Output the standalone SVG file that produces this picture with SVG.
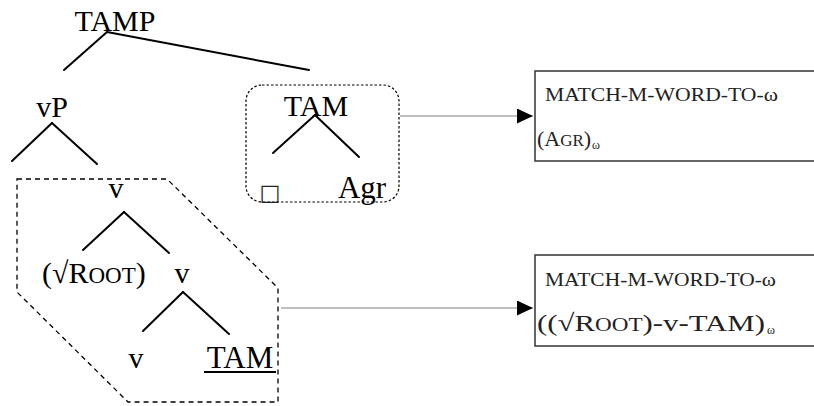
<svg xmlns="http://www.w3.org/2000/svg" width="814" height="406" viewBox="0 0 814 406">
<defs>
<style>
.t{font-family:"Liberation Serif","Times New Roman",serif;font-size:30px;fill:#000}
.b{font-family:"Liberation Serif","Times New Roman",serif;font-size:24px;fill:#222}
.sc{font-size:18px}
.sub{font-size:12px}
.br{stroke:#000;stroke-width:2;fill:none;stroke-linecap:round}
.ar{stroke:#aaa;stroke-width:1.5;fill:none}
.box{fill:#fff;stroke:#333;stroke-width:1.5}
</style>
<marker id="ah" markerWidth="16" markerHeight="16" refX="16" refY="7.5" orient="auto" markerUnits="userSpaceOnUse">
<path d="M0,0 L16,7.5 L0,15 Z" fill="#000"/>
</marker>
</defs>
<rect width="814" height="406" fill="#fff"/>

<g id="region-lower">
<polygon points="17,179 167,179 278,288 278,402 128,402 17,292" fill="none" stroke="#000" stroke-width="1.3" stroke-dasharray="5,4"/>
</g>
<g id="region-tam">
<rect x="246" y="85" width="153" height="117" rx="16" ry="16" fill="none" stroke="#000" stroke-width="1.2" stroke-dasharray="2.5,2"/>
</g>

<g id="connectors">
<line class="br" x1="107" y1="32" x2="64" y2="70"/>
<line class="br" x1="107" y1="32" x2="309" y2="70"/>
<line class="br" x1="52" y1="123" x2="12" y2="161"/>
<line class="br" x1="52" y1="123" x2="97" y2="164"/>
<line class="br" x1="315" y1="115" x2="273" y2="153"/>
<line class="br" x1="315" y1="115" x2="359" y2="157"/>
<line class="br" x1="124" y1="212" x2="83" y2="250"/>
<line class="br" x1="124" y1="212" x2="169" y2="253"/>
<line class="br" x1="183" y1="292" x2="143" y2="331"/>
<line class="br" x1="183" y1="292" x2="229" y2="334"/>
<line class="ar" x1="400" y1="116" x2="533" y2="116" marker-end="url(#ah)"/>
<line class="ar" x1="281" y1="308" x2="533" y2="308" marker-end="url(#ah)"/>
</g>

<g id="node-tamp"><text class="t" x="115" y="31" text-anchor="middle">TAMP</text></g>
<g id="node-vp"><text class="t" x="52" y="117" text-anchor="middle">vP</text></g>
<g id="node-tam"><text class="t" x="316" y="116" text-anchor="middle">TAM</text></g>
<g id="node-square"><text x="270" y="200" text-anchor="middle" style="font-family:'DejaVu Sans',sans-serif;font-size:22px;fill:#222">□</text></g>
<g id="node-agr"><text class="t" x="362" y="198" text-anchor="middle" style="font-size:31px">Agr</text></g>
<g id="node-v1"><text class="t" x="116" y="198" text-anchor="middle">v</text></g>
<g id="node-root"><text class="t" x="42" y="283"><tspan>(√R</tspan><tspan style="font-size:23px">OOT</tspan><tspan>)</tspan></text></g>
<g id="node-v2"><text class="t" x="182" y="283" text-anchor="middle">v</text></g>
<g id="node-v3"><text class="t" x="136" y="368" text-anchor="middle">v</text></g>
<g id="node-tam2"><text class="t" x="240" y="368" text-anchor="middle" style="font-size:31px">TAM</text><line x1="204" y1="372" x2="276" y2="372" stroke="#000" stroke-width="2"/></g>

<g id="box-agr">
<rect class="box" x="535" y="71" width="290" height="90"/>
<text class="b" x="545" y="101" textLength="233" lengthAdjust="spacingAndGlyphs" style="font-size:19px">MATCH-M-WORD-TO-ω</text>
<text class="b" x="537" y="146" style="font-size:22px"><tspan>(A</tspan><tspan style="font-size:17px">GR</tspan><tspan>)</tspan></text>
<text class="b sub" x="592" y="149">ω</text>
</g>
<g id="box-root">
<rect class="box" x="535" y="255" width="290" height="91"/>
<text class="b" x="545" y="286" textLength="231" lengthAdjust="spacingAndGlyphs" style="font-size:19px">MATCH-M-WORD-TO-ω</text>
<text class="b" x="537" y="331" textLength="228" lengthAdjust="spacingAndGlyphs"><tspan>((√R</tspan><tspan class="sc">OOT</tspan><tspan>)-v-TAM)</tspan></text>
<text class="b sub" x="767" y="334">ω</text>
</g>
</svg>
